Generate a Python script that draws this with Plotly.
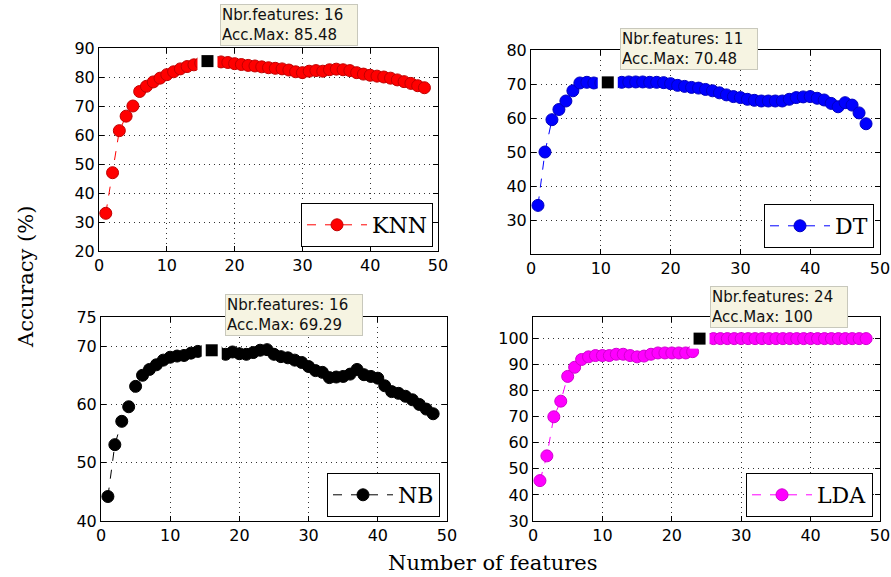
import plotly.graph_objects as go

features = list(range(1, 49))

knn = [33, 47, 61.5, 66.5, 70, 75, 76.8, 78.3, 79.6, 80.8, 81.8, 82.8, 83.6, 84.2, 84.8, 85.48,
       85.3, 85.2, 85, 84.6, 84.3, 84, 83.8, 83.5, 83.2, 83, 82.8, 82.4, 81.8, 81.5, 82, 82.2,
       82, 82.5, 82.7, 82.5, 82.2, 81.5, 81, 80.6, 80.3, 80, 79.6, 79, 78.4, 77.8, 77, 76.3]
dt = [34.3, 50, 59.5, 62.5, 65, 68, 70.3, 70.5, 70.3, 70.3, 70.48, 70.4, 70.5, 70.6, 70.6, 70.6,
      70.5, 70.5, 70.4, 70.1, 69.6, 69.3, 69, 68.8, 68.4, 68, 67.4, 66.8, 66.3, 66, 65.5, 65.2,
      65, 65, 65, 65, 65.5, 66, 66.2, 66.3, 65.8, 65.3, 64.3, 63.3, 64.5, 63.8, 61.5, 58.3]
nb = [44.2, 53.1, 57.1, 59.6, 63.1, 65, 66, 66.8, 67.6, 68.1, 68.3, 68.4, 68.8, 69.1, 69.2, 69.29,
      68.9, 68.6, 69, 68.7, 68.6, 68.9, 69.3, 69.4, 68.6, 68.2, 68, 67.6, 67.2, 66.5, 65.8, 65.5,
      64.6, 64.7, 64.8, 65.2, 66, 65.1, 64.8, 64.5, 63.2, 62.2, 61.9, 61.4, 60.8, 60, 59.2, 58.4]
lda = [45.5, 55, 70, 76, 85.5, 89, 92, 93, 93.5, 93.5, 93.5, 94, 94, 93.5, 93, 93.3,
       94, 94.5, 94.5, 94.5, 94.5, 94.5, 95, 100, 100, 100, 100, 100, 100, 100, 100, 100,
       100, 100, 100, 100, 100, 100, 100, 100, 100, 100, 100, 100, 100, 100, 100, 100]

names = ["KNN", "DT", "NB", "LDA"]
series = [knn, dt, nb, lda]
colors = ["#ff0000", "#0000ff", "#000000", "#ff00ff"]
edge_colors = ["#c00000", "#0000c0", "#000000", "#d000d0"]
best_n = [16, 11, 16, 24]
best_acc = ["85.48", "70.48", "69.29", "100"]

x_ticks = [0, 10, 20, 30, 40, 50]
y_ticks = [[20, 30, 40, 50, 60, 70, 80, 90],
           [30, 40, 50, 60, 70, 80],
           [40, 50, 60, 70, 75],
           [30, 40, 50, 60, 70, 80, 90, 100]]
y_ranges = [[20, 90], [20, 80], [40, 75], [30, 108.3]]

W, H = 891, 577
# pixel boxes of the four axes: (left, right, top, bottom)
boxes = [(99, 438, 48, 251), (531, 880, 50, 254), (101, 447, 317, 521), (533, 880, 317, 521)]
legend_pos = [(433, 247), (874, 248), (440, 517), (873, 517)]
ann_shift = [(13, 15), (12, 12), (13, 14), (10, 11)]

fig = go.Figure()
layout = dict(width=W, height=H, autosize=False, margin=dict(l=0, r=0, t=0, b=0, pad=0),
              paper_bgcolor="white", plot_bgcolor="white", showlegend=True,
              template="none")

axis_common = dict(showline=True, linecolor="black", linewidth=1, mirror="ticks",
                   ticks="inside", ticklen=5, tickcolor="black", automargin=False,
                   ticklabeloverflow="allow",
                   showgrid=True, gridcolor="#333333", griddash="1px,4px", gridwidth=1,
                   zeroline=False, tickfont=dict(family="DejaVu Sans", size=16, color="black"))

annotations = []
for i in range(4):
    sfx = "" if i == 0 else str(i + 1)
    xa, ya = "x" + sfx, "y" + sfx
    lg = "legend" + sfx
    l, r, t, b = boxes[i]
    layout["xaxis" + sfx] = dict(axis_common, domain=[l / W, r / W], anchor=ya,
                                 range=[0, 50], tickvals=x_ticks)
    layout["yaxis" + sfx] = dict(axis_common, domain=[1 - b / H, 1 - t / H], anchor=xa,
                                 range=y_ranges[i], tickvals=y_ticks[i])
    lx, lyb = legend_pos[i]
    layout[lg] = dict(x=lx / W, y=1 - lyb / H, xanchor="right", yanchor="bottom",
                      bgcolor="white", bordercolor="black", borderwidth=1,
                      font=dict(family="DejaVu Serif", size=22, color="black"),
                      itemwidth=60)
    fig.add_trace(go.Scatter(
        x=features, y=series[i], mode="lines+markers", name=names[i],
        line=dict(color=colors[i], width=1, dash="dash"),
        marker=dict(symbol="circle", size=12, color=colors[i],
                    line=dict(color=edge_colors[i], width=1)),
        xaxis=xa, yaxis=ya, legend=lg, showlegend=True))
    # maximum point: white halo then black square
    ymax = float(best_acc[i])
    fig.add_trace(go.Scatter(
        x=[best_n[i]], y=[ymax], mode="markers", showlegend=False,
        marker=dict(symbol="square", size=20, color="white"),
        xaxis=xa, yaxis=ya))
    fig.add_trace(go.Scatter(
        x=[best_n[i]], y=[ymax], mode="markers", showlegend=False,
        marker=dict(symbol="square", size=12, color="black"),
        xaxis=xa, yaxis=ya))
    dx, dy = ann_shift[i]
    annotations.append(dict(
        x=best_n[i], y=ymax, xref=xa, yref=ya, showarrow=False,
        xanchor="left", yanchor="bottom", xshift=dx, yshift=dy,
        text=f"Nbr.features: {best_n[i]}<br>Acc.Max: {best_acc[i]}",
        align="left", width=134,
        font=dict(family="DejaVu Sans", size=15, color="#111111"),
        bgcolor="#f6f4e2", bordercolor="#c8c8bc", borderwidth=1, borderpad=1))

annotations.append(dict(text="Accuracy (%)", x=26 / W, y=1 - 277 / H, xref="paper", yref="paper",
                        xanchor="center", yanchor="middle",
                        showarrow=False, textangle=-90,
                        font=dict(family="DejaVu Serif", size=21, color="black")))
annotations.append(dict(text="Number of features", x=492 / W, y=1 - 563 / H, xref="paper",
                        yref="paper", xanchor="center", yanchor="middle", showarrow=False,
                        font=dict(family="DejaVu Serif", size=21, color="black")))
layout["annotations"] = annotations
fig.update_layout(**layout)
fig.write_html("out.html", config={"displayModeBar": False},
               post_script="document.body.style.margin='0px';"
                           "document.body.style.overflow='hidden';")
